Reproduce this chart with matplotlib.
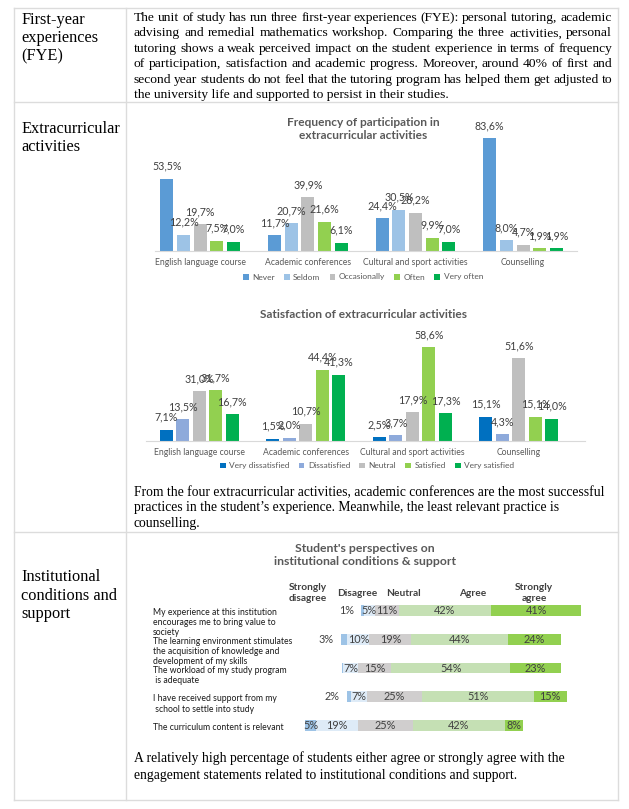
import matplotlib
matplotlib.use('Agg')
import matplotlib.pyplot as plt
import matplotlib.transforms as mtransforms
import numpy as np

W, H = 629, 809

# ---- data ----
activities = ['English language course', 'Academic conferences',
              'Cultural and sport activities', 'Counselling']

freq_labels = ['Never', 'Seldom', 'Occasionally', 'Often', 'Very often']
never = [53.5, 11.7, 24.4, 83.6]
seldom = [12.2, 20.7, 30.5, 8.0]
occasionally = [19.7, 39.9, 28.2, 4.7]
often = [7.5, 21.6, 9.9, 1.9]
very_often = [7.0, 6.1, 7.0, 1.9]

sat_labels = ['Very dissatisfied', 'Dissatisfied', 'Neutral', 'Satisfied', 'Very satisfied']
very_dissatisfied = [7.1, 1.5, 2.5, 15.1]
dissatisfied = [13.5, 2.0, 3.7, 4.3]
neutral_sat = [31.0, 10.7, 17.9, 51.6]
satisfied = [31.7, 44.4, 58.6, 15.1]
very_satisfied = [16.7, 41.3, 17.3, 14.0]

statements = ['My experience at this institution\nencourages me to bring value to\nsociety',
              'The learning environment stimulates\nthe acquisition of knowledge and\ndevelopment of my skills',
              'The workload of my study program\n is adequate',
              'I have received support from my\n school to settle into study',
              'The curriculum content is relevant']
likert = ['Strongly\ndisagree', 'Disagree', 'Neutral', 'Agree', 'Strongly\nagree']
spacer = [25.6, 16.3, 17.0, 19.0, 0.0]   # invisible series that shifts the bars
strongly_disagree = [1, 3, 0.3, 2, 5]
disagree = [5, 10, 7, 7, 19]
neutral = [11, 19, 15, 25, 25]
agree = [42, 44, 54, 51, 42]
strongly_agree = [41, 24, 23, 15, 8]

para1 = ['The unit of study has run three first-year experiences (FYE): personal tutoring, academic',
         'advising and remedial mathematics workshop. Comparing the three activities, personal',
         'tutoring shows a weak perceived impact on the student experience in terms of frequency',
         'of participation, satisfaction and academic progress. Moreover, around 40% of first and',
         'second year students do not feel that the tutoring program has helped them get adjusted to',
         'the university life and supported to persist in their studies.']
para2 = ['From the four extracurricular activities, academic conferences are the most successful',
         'practices in the student\u2019s experience. Meanwhile, the least relevant practice is',
         'counselling.']
para3 = ['A relatively high percentage of students either agree or strongly agree with the',
         'engagement statements related to institutional conditions and support.']

SERIF = 'Liberation Serif'
SANS = 'Lato'
GRID = '#dcdcdc'

fig = plt.figure(figsize=(W / 100, H / 100), dpi=100)
fig.patch.set_facecolor('white')


def fy(y):
    return 1 - y / H


def put(x, y, s, **kw):
    kw.setdefault('va', 'center')
    return fig.text(x / W, fy(y), s, **kw)


def px_axes(x0, y0, x1, y1):
    return fig.add_axes([x0 / W, fy(y1), (x1 - x0) / W, (y1 - y0) / H])


renderer = fig.canvas.get_renderer()


def justify(lines, x0, x1, y0, dy, size):
    # word by word so the right edge lines up, as in the source document
    for i, line in enumerate(lines):
        y = y0 + i * dy + 4
        if i == len(lines) - 1:
            put(x0, y, line, fontsize=size, family=SERIF, va='baseline')
            continue
        words = line.split()
        arts = [put(0, y, w, fontsize=size, family=SERIF, va='baseline') for w in words]
        widths = [a.get_window_extent(renderer).width for a in arts]
        gap = max((x1 - x0 - sum(widths)) / (len(words) - 1), 1.5)
        x = x0
        for a, w in zip(arts, widths):
            a.set_x(x / W)
            x += w + gap


# ---- table grid ----
for y in [8, 102, 532, 800]:
    fig.add_artist(plt.Line2D([14 / W, 618 / W], [fy(y), fy(y)], color=GRID, lw=1))
for x in [14, 126, 618]:
    fig.add_artist(plt.Line2D([x / W, x / W], [fy(8), fy(800)], color=GRID, lw=1))

# left column
for lines, ys in [(['First-year', 'experiences', '(FYE)'], [20, 38, 56]),
                  (['Extracurricular', 'activities'], [129, 147]),
                  (['Institutional', 'conditions and', 'support'], [577, 596, 614])]:
    for s, y in zip(lines, ys):
        put(21, y, s, fontsize=11.8, family=SERIF)

justify(para1, 134, 612, 17, 15.4, 9.7)
for i, s in enumerate(para2):
    put(134, 493 + i * 15, s, fontsize=9.8, family=SERIF)
for i, s in enumerate(para3):
    put(134, 758 + i * 17, s, fontsize=9.8, family=SERIF)


# ---- grouped bar charts ----
def grouped(ax, series, names, colors, width, step):
    x = np.arange(len(activities))
    for j, (vals, name, c) in enumerate(zip(series, names, colors)):
        xs = x + (j - 2) * step
        ax.bar(xs, vals, width, color=c, label=name)
        for xi, v in zip(xs, vals):
            ax.annotate(f'{v:.1f}%'.replace('.', ','), (xi, v), xytext=(0, 9),
                        textcoords='offset points', ha='center', va='center',
                        fontsize=7.7, color='#404040', family=SANS)
    ax.set_xticks(x)
    ax.set_xticklabels(activities, fontsize=6.2, color='#595959', family=SANS)
    ax.tick_params(axis='x', length=0, pad=5)
    ax.set_yticks([])
    for sp in ['top', 'left', 'right']:
        ax.spines[sp].set_visible(False)
    ax.spines['bottom'].set_color('#d9d9d9')
    ax.patch.set_alpha(0)


ax1 = px_axes(155, 251 - 90 * 1.351, 577, 251)
grouped(ax1, [never, seldom, occasionally, often, very_often], freq_labels,
        ['#5b9bd5', '#9dc3e6', '#bfbfbf', '#92d050', '#00b050'], 0.122, 0.155)
ax1.set_ylim(0, 90)
ax1.set_xlim(-0.42, 3.5)
put(363, 129, 'Frequency of participation in\nextracurricular activities', ha='center',
    fontsize=8.6, fontweight='bold', color='#595959', family=SANS, linespacing=1.3)
ax1.legend(loc='center', bbox_to_anchor=(363 / W, fy(277)), bbox_transform=fig.transFigure,
           ncol=5, frameon=False, prop={'family': SANS, 'size': 6}, labelcolor='#595959',
           handlelength=0.7, handleheight=0.7, handletextpad=0.4, columnspacing=1.1)

ax2 = px_axes(146, 441 - 70 * 1.605, 585, 441)
grouped(ax2, [very_dissatisfied, dissatisfied, neutral_sat, satisfied, very_satisfied], sat_labels,
        ['#0070c0', '#8eaadb', '#bfbfbf', '#92d050', '#00b050'], 0.122, 0.155)
ax2.set_ylim(0, 70)
ax2.set_xlim(-0.5, 3.62)
put(363, 314, 'Satisfaction of extracurricular activities', ha='center',
    fontsize=8.6, fontweight='bold', color='#595959', family=SANS)
ax2.legend(loc='center', bbox_to_anchor=(367 / W, fy(466)), bbox_transform=fig.transFigure,
           ncol=5, frameon=False, prop={'family': SANS, 'size': 6}, labelcolor='#595959',
           handlelength=0.7, handleheight=0.7, handletextpad=0.4, columnspacing=1.1)

# ---- stacked likert chart ----
ax3 = px_axes(305, 596, 305 + 130 * 2.2, 740)
rows = np.arange(len(statements))
left = np.array(spacer, dtype=float)
likert_colors = ['#9dc3e6', '#deebf7', '#d0cece', '#c5e0b4', '#92d050']
for k, (vals, c) in enumerate(zip([strongly_disagree, disagree, neutral, agree, strongly_agree],
                                  likert_colors)):
    vals = np.array(vals, dtype=float)
    ax3.barh(rows, vals, left=left, height=0.38, color=c)
    for r, v, l in zip(rows, vals, left):
        if v < 0.5:
            continue
        if k == 0 and v < 4:
            ax3.annotate(f'{v:.0f}%', (l, r), xytext=(-5, 0), textcoords='offset points',
                         ha='right', va='center', fontsize=7.8, color='#404040', family=SANS)
        else:
            ax3.text(l + v / 2, r, f'{v:.0f}%', ha='center', va='center',
                     fontsize=7.8, color='#404040', family=SANS)
    left = left + vals
ax3.set_xlim(0, 130)
ax3.set_ylim(4.5, -0.5)
ax3.axis('off')

tr = mtransforms.blended_transform_factory(fig.transFigure, ax3.transData)
for r, s in zip(rows, statements):
    ax3.text(153 / W, r - 0.08, s, transform=tr, ha='left', va='top', fontsize=6.2,
             color='#1a1a1a', family=SANS, linespacing=1.15)

for s, x in zip(likert, [308, 357, 403, 473, 534]):
    put(x, 593, s, ha='center', fontsize=7.3, fontweight='bold', color='#404040',
        family=SANS, linespacing=1.3)
put(365, 555, 'Student\'s perspectives on\ninstitutional conditions & support', ha='center',
    fontsize=8.8, fontweight='bold', color='#595959', family=SANS, linespacing=1.3)

fig.savefig('out.png', dpi=100, facecolor='white')
